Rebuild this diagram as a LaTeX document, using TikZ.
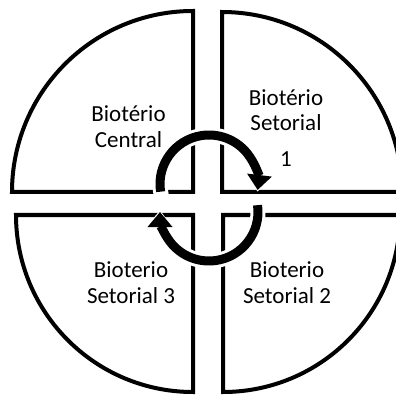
\documentclass[tikz,border=0pt]{standalone}
\usepackage{fontspec}
\setmainfont{Carlito}
\usetikzlibrary{arrows.meta}

\begin{document}
\begin{tikzpicture}[x=1pt,y=1pt,
    every node/.style={font=\fontsize{23}{25.5}\selectfont, align=center, inner sep=0pt},
    room/.style={draw=black,line width=4pt,line join=miter},
    halo/.style={draw=white,line width=15pt,-{Triangle[width=32pt,length=21pt]}},
    flow/.style={draw=black,line width=9pt,-{Triangle[width=24pt,length=15pt]}}]
  \useasboundingbox (0,0) rectangle (396,394);
  % the four rooms
  \draw[room] (193,202) -- (12,202) arc[start angle=180,end angle=90,radius=181] -- cycle;
  \draw[room] (222,202) -- (222,382) arc[start angle=90,end angle=0,radius=180] -- cycle;
  \draw[room] (193,179) -- (193,2) arc[start angle=-90,end angle=-180,radius=177] -- cycle;
  \draw[room] (223,179) -- (400,179) arc[start angle=0,end angle=-90,radius=177] -- cycle;
  % circular flow
  \coordinate (up) at (209,210);
  \coordinate (down) at (209,182);
  \draw[halo] (up) ++(193:49) arc[start angle=193,end angle=-9,radius=49];
  \draw[flow] (up) ++(189:49) arc[start angle=189,end angle=-7,radius=49];
  \draw[halo] (down) ++(8:49) arc[start angle=8,end angle=-182,radius=49];
  \draw[flow] (down) ++(8:49) arc[start angle=8,end angle=-180,radius=49];
  % labels
  \node (central) at (128.5,267.5) {Biotério\\Central};
  \node (setorial1) at (286,266) {Biotério\\Setorial\\[10pt]1};
  \node (setorial3) at (131,111.5) {Bioterio\\Setorial 3};
  \node (setorial2) at (287,111.5) {Bioterio\\Setorial 2};
\end{tikzpicture}
\end{document}
